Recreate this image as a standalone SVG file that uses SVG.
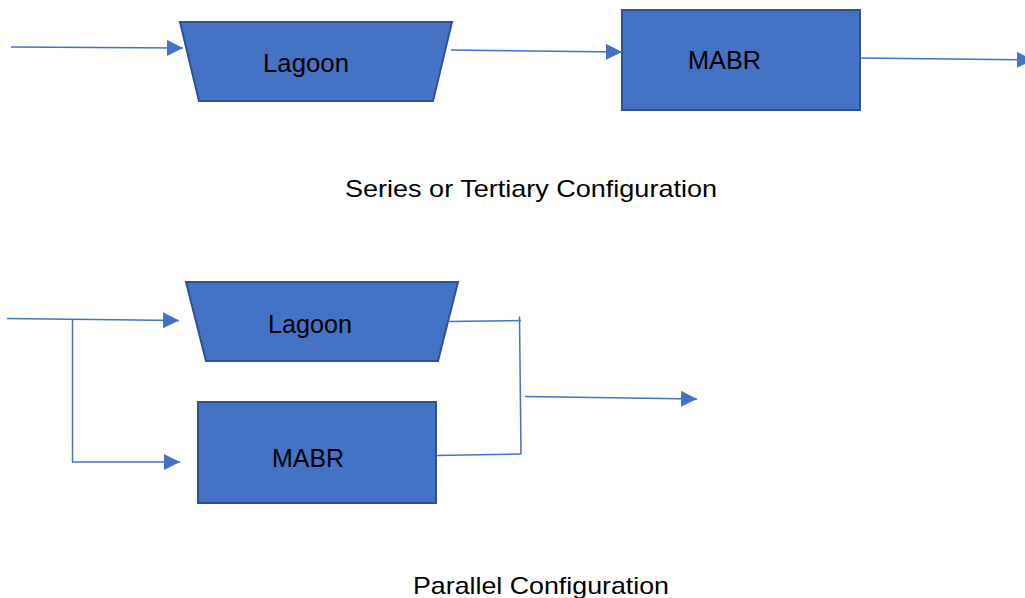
<svg xmlns="http://www.w3.org/2000/svg" width="1025" height="598" viewBox="0 0 1025 598">
<style>
.node{fill:#4472C4;stroke:#2F528F;stroke-width:2}
.lbl{font-family:"Liberation Sans",Arial,sans-serif;font-size:25px;fill:#000}
.cap{font-family:"Liberation Sans",Arial,sans-serif;font-size:24px;fill:#000}
.ln{fill:none;stroke:#4472C4;stroke-width:1.5}
</style>
<defs>
<marker id="ah" viewBox="0 0 16 16" refX="16" refY="8" markerWidth="16" markerHeight="16" markerUnits="userSpaceOnUse" orient="auto">
<path d="M0,0 L16,8 L0,16 Z" fill="#4472C4"/>
</marker>
</defs>
<rect width="1025" height="598" fill="#fff"/>
<g id="lagoon1">
<polygon class="node" points="180,22 452,22 433,101 199,101"/>
<text class="lbl" x="263" y="72" textLength="86" lengthAdjust="spacingAndGlyphs">Lagoon</text>
</g>
<g id="mabr1">
<rect class="node" x="622" y="10" width="238" height="100"/>
<text class="lbl" x="688" y="69" textLength="73" lengthAdjust="spacingAndGlyphs">MABR</text>
</g>
<g id="lagoon2">
<polygon class="node" points="186,282 458,282 438,361 206,361"/>
<text class="lbl" x="268" y="333" textLength="84" lengthAdjust="spacingAndGlyphs">Lagoon</text>
</g>
<g id="mabr2">
<rect class="node" x="198" y="402" width="238" height="101"/>
<text class="lbl" x="272" y="467" textLength="72" lengthAdjust="spacingAndGlyphs">MABR</text>
</g>
<g id="connectors">
<line class="ln" x1="11" y1="47" x2="183" y2="48" marker-end="url(#ah)"/>
<line class="ln" x1="451" y1="50" x2="622" y2="52" marker-end="url(#ah)"/>
<line class="ln" x1="860" y1="58" x2="1033" y2="60" marker-end="url(#ah)"/>
<line class="ln" x1="7" y1="318.5" x2="179" y2="320.5" marker-end="url(#ah)"/>
<polyline class="ln" points="72.5,320 72.5,462"/>
<line class="ln" x1="72" y1="462" x2="180" y2="462" marker-end="url(#ah)"/>
<polyline class="ln" points="448,321.5 521,320.5"/>
<polyline class="ln" points="519.5,316.5 521,454"/>
<polyline class="ln" points="436,455.5 521,454"/>
<line class="ln" x1="525" y1="396.5" x2="697" y2="399" marker-end="url(#ah)"/>
</g>
<text class="cap" x="345" y="197" textLength="372" lengthAdjust="spacingAndGlyphs">Series or Tertiary Configuration</text>
<text class="cap" x="413" y="594" textLength="256" lengthAdjust="spacingAndGlyphs">Parallel Configuration</text>
</svg>
